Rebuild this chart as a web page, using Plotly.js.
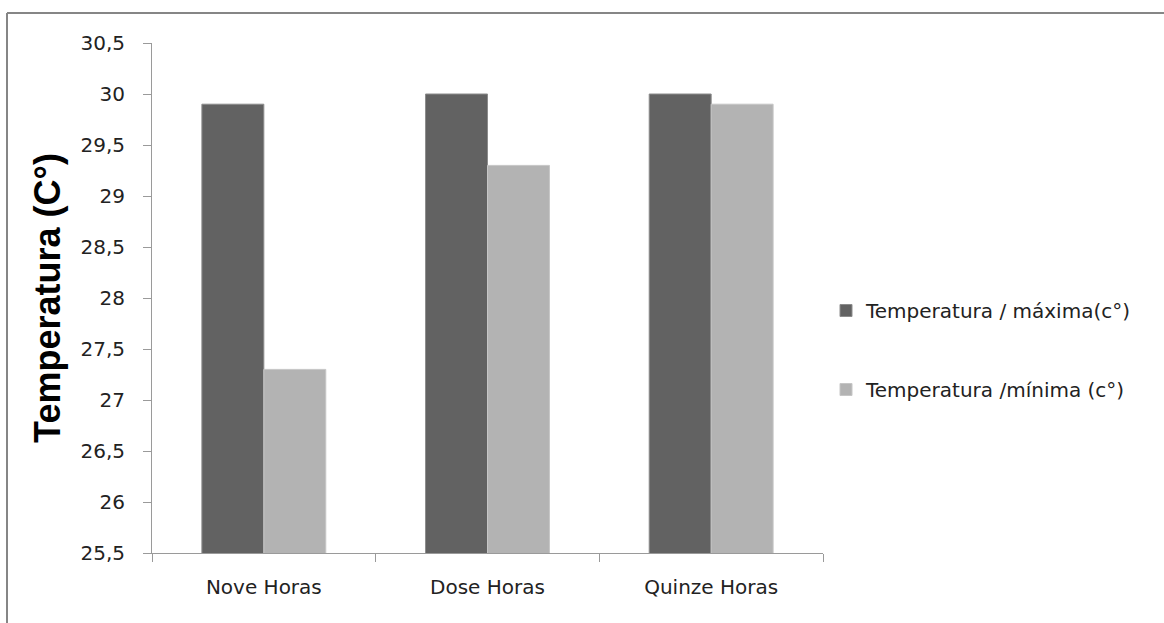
<!DOCTYPE html>
<html>
<head>
<meta charset="utf-8">
<script src="https://cdn.plot.ly/plotly-3.0.1.min.js"></script>
<style>
  html, body { margin: 0; padding: 0; background: #ffffff; }
  #chart { width: 1164px; height: 623px; }
</style>
</head>
<body>
<div id="chart"></div>
<script>
// Period of the day
const categories = ['Nove Horas', 'Dose Horas', 'Quinze Horas'];

// Temperatures (°C)
const tempMax = [29.9, 30.0, 30.0];
const tempMin = [27.3, 29.3, 29.9];

const seriesNames = ['Temperatura / máxima(c°)', 'Temperatura /mínima (c°)'];
const yTitle = 'Temperatura (C°)';

const textColor = '#222222';
const axisColor = '#9a9a9a';
const tickFont = { family: 'DejaVu Sans', size: 20, color: textColor };

// Plot area in pixels
const W = 1164, H = 623;
const M = { l: 152, r: 341, t: 43, b: 70 };
const pw = W - M.l - M.r, ph = H - M.t - M.b;
const px = v => (v - M.l) / pw;          // pixel x -> paper x
const py = v => (H - M.b - v) / ph;      // pixel y -> paper y

const traces = [
  {
    type: 'bar', name: seriesNames[0], x: categories, y: tempMax,
    marker: { color: '#626262', line: { color: '#8c8c8c', width: 1 } },
    legendgroup: 'max', hoverinfo: 'x+y'
  },
  {
    type: 'bar', name: seriesNames[1], x: categories, y: tempMin,
    marker: { color: '#b3b3b3', line: { color: '#c6c6c6', width: 1 } },
    legendgroup: 'min', hoverinfo: 'x+y'
  }
];

const layout = {
  width: W, height: H,
  margin: M,
  paper_bgcolor: '#ffffff', plot_bgcolor: '#ffffff',
  separators: ',.',
  barmode: 'group',
  bargap: 0.446,
  bargroupgap: 0,
  showlegend: true,
  legend: {
    x: px(826), xanchor: 'left',
    y: py(350), yanchor: 'middle',
    font: { family: 'DejaVu Sans', size: 20, color: textColor },
    tracegroupgap: 50,
    traceorder: 'grouped',
    bgcolor: 'rgba(0,0,0,0)'
  },
  xaxis: {
    type: 'category',
    showline: true, linecolor: axisColor, linewidth: 1,
    ticks: 'outside', ticklen: 8, tickcolor: axisColor, tickwidth: 1,
    tickson: 'boundaries',
    ticklabelstandoff: 16,
    tickfont: tickFont,
    showgrid: false, zeroline: false
  },
  yaxis: {
    range: [25.5, 30.5],
    dtick: 0.5, tick0: 25.5,
    showline: true, linecolor: axisColor, linewidth: 1,
    ticks: 'outside', ticklen: 8, tickcolor: axisColor, tickwidth: 1,
    ticklabelstandoff: 14,
    tickfont: tickFont,
    showgrid: false, zeroline: false,
    title: {
      text: '<b>' + yTitle + '</b>',
      font: { family: 'Liberation Sans', size: 36, color: '#000000' },
      standoff: 8
    }
  },
  shapes: [
    // chart frame (top and left edges)
    { type: 'line', xref: 'paper', yref: 'paper',
      x0: px(7), x1: px(1170), y0: py(13), y1: py(13),
      line: { color: '#868686', width: 2 } },
    { type: 'line', xref: 'paper', yref: 'paper',
      x0: px(7), x1: px(7), y0: py(13), y1: py(640),
      line: { color: '#868686', width: 2 } }
  ]
};

Plotly.newPlot('chart', traces, layout, { displayModeBar: false, staticPlot: true });
</script>
</body>
</html>
